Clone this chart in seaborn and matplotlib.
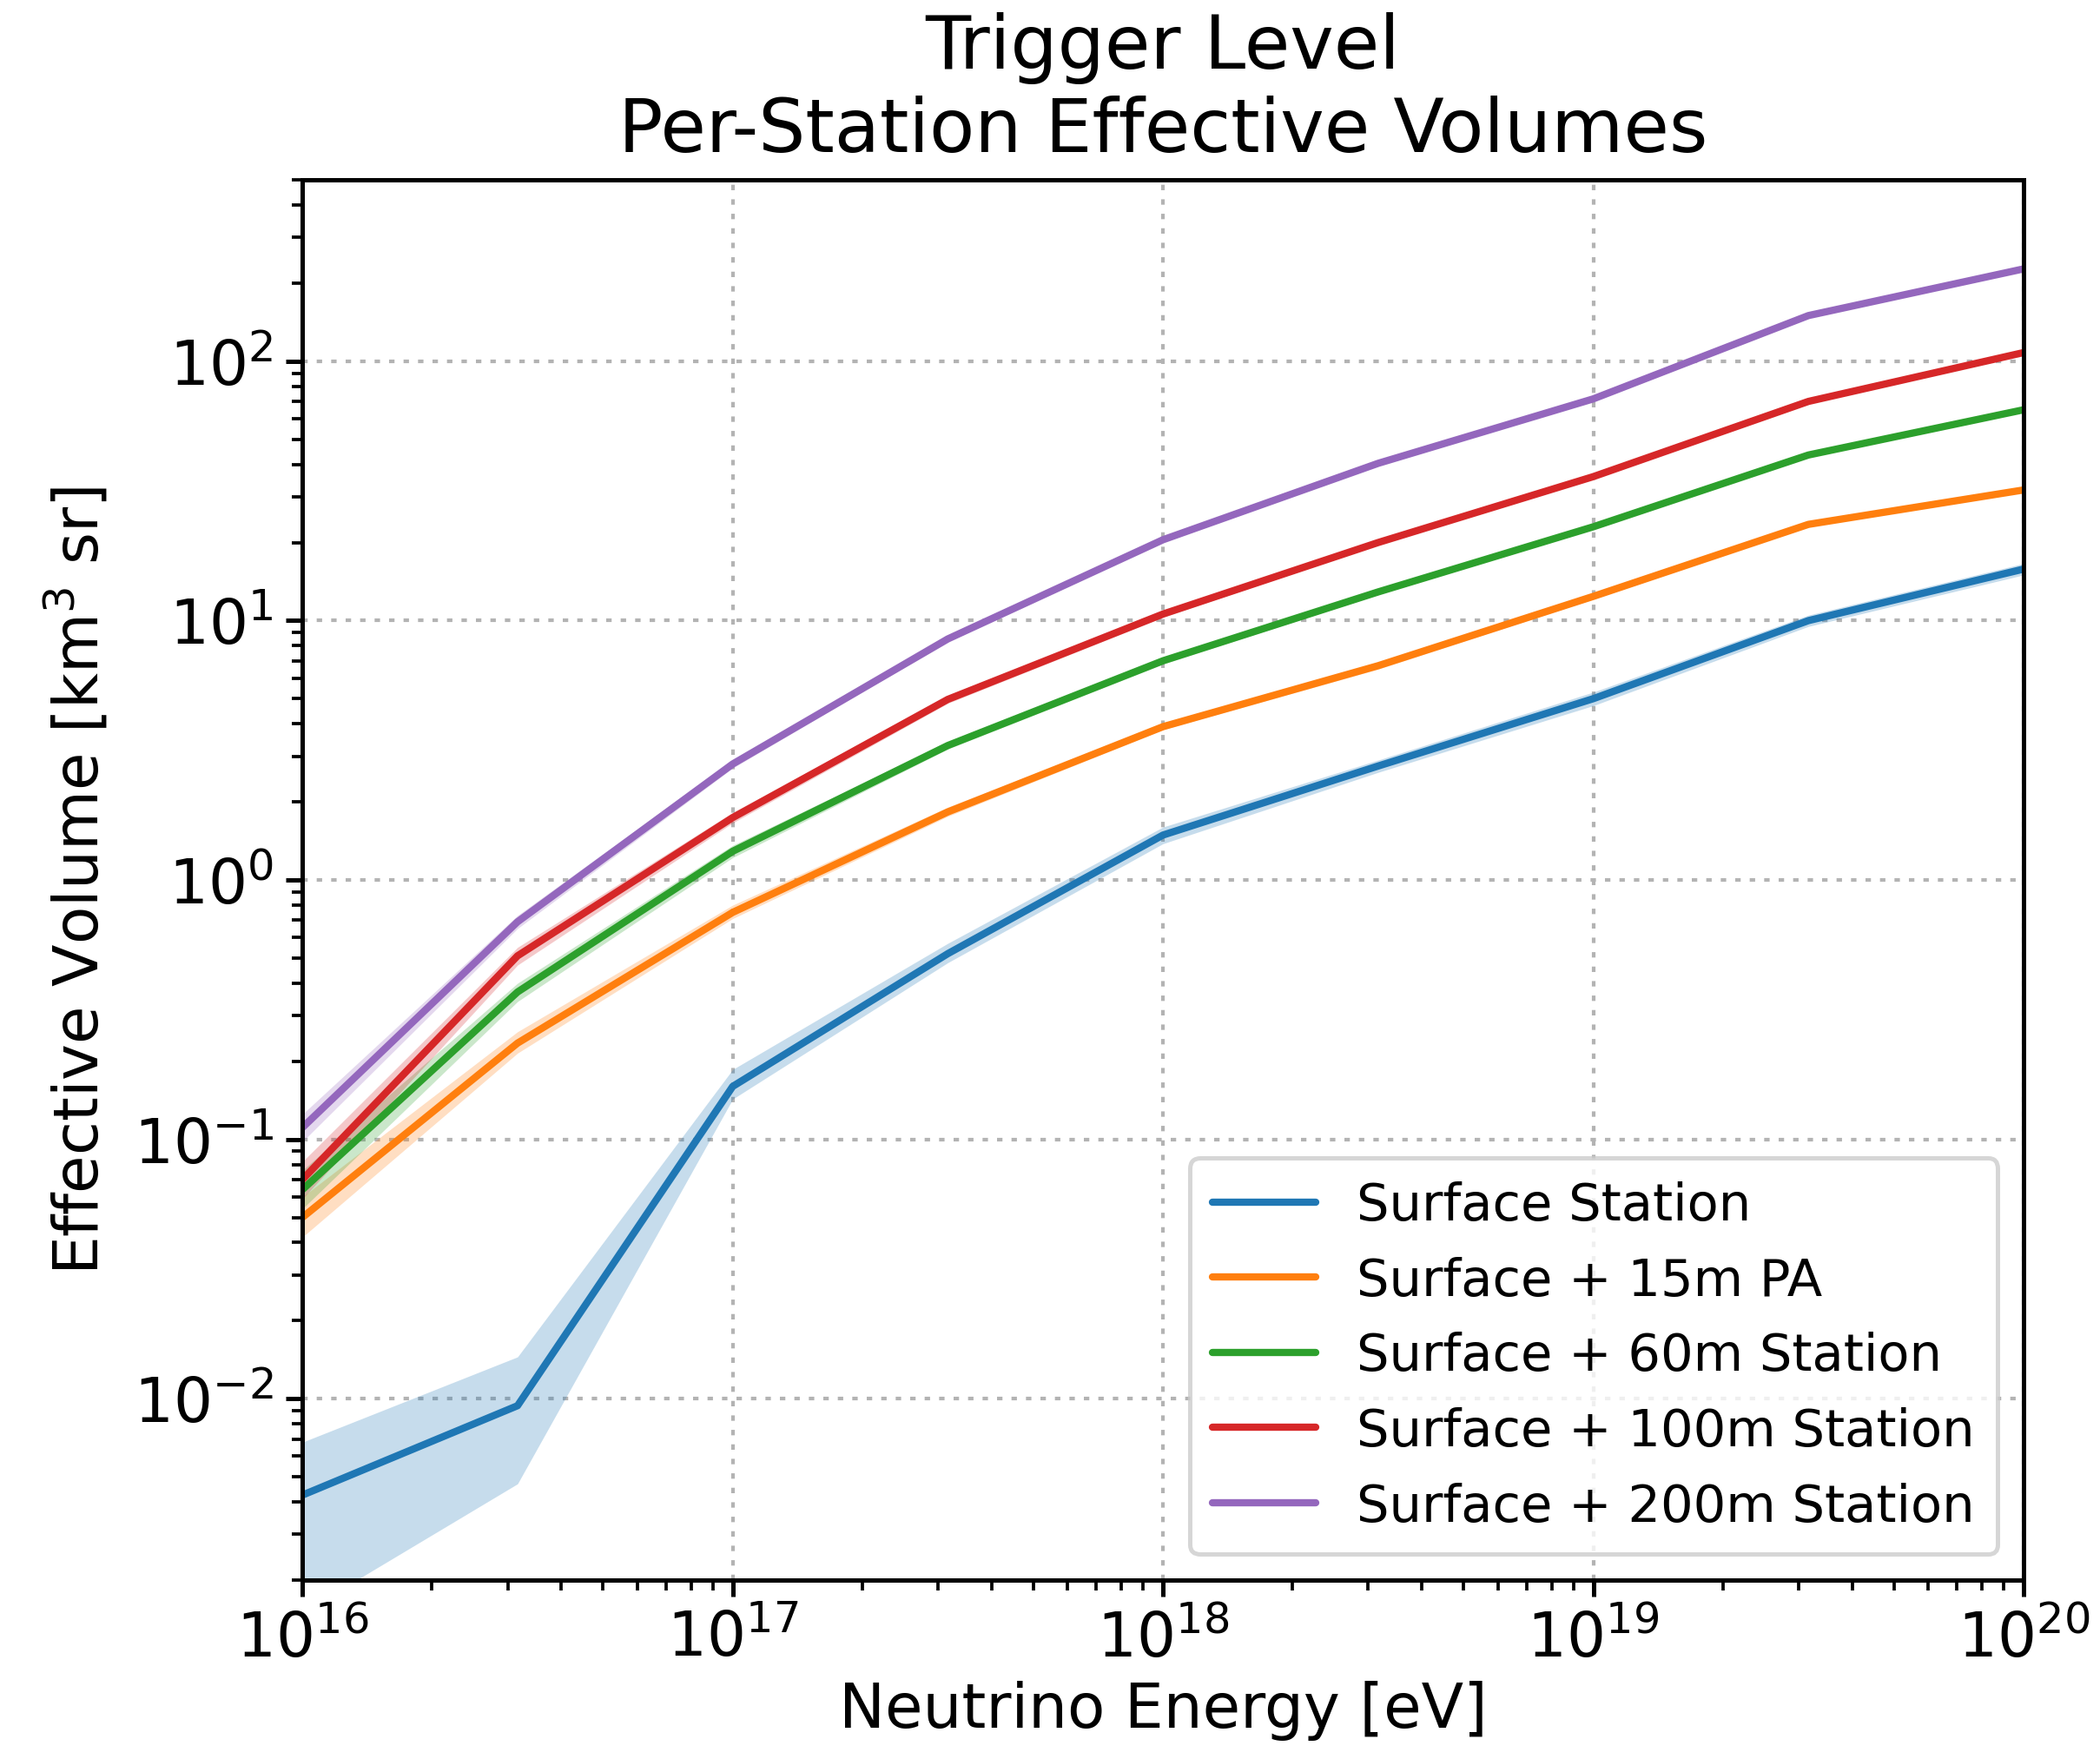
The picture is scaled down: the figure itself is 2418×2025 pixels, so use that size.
import numpy as np
import pandas as pd
import matplotlib
matplotlib.use("Agg")
import matplotlib.pyplot as plt
import seaborn as sns

energies = [1e16, 10**16.5, 1e17, 10**17.5, 1e18, 10**18.5, 1e19, 10**19.5, 1e20]

labels = ["Surface Station", "Surface + 15m PA", "Surface + 60m Station",
          "Surface + 100m Station", "Surface + 200m Station"]

surface = [0.00425, 0.0094, 0.16, 0.52, 1.49, 2.75, 5.0, 10.0, 15.8]
surface_lo = [0.0015, 0.0047, 0.143, 0.48, 1.38, 2.6, 4.7, 9.5, 15.0]
surface_hi = [0.0068, 0.0145, 0.186, 0.57, 1.60, 2.9, 5.3, 10.5, 16.6]

pa15 = [0.050, 0.235, 0.75, 1.83, 3.9, 6.7, 12.4, 23.5, 31.9]
pa15_lo = [0.042, 0.215, 0.71, 1.76, 3.8, 6.5, 12.1, 23.0, 31.3]
pa15_hi = [0.060, 0.260, 0.80, 1.91, 4.0, 6.9, 12.7, 24.0, 32.5]

st60 = [0.064, 0.37, 1.29, 3.3, 7.0, 12.9, 23.0, 43.5, 65.0]
st60_lo = [0.054, 0.34, 1.22, 3.2, 6.8, 12.6, 22.6, 43.0, 64.2]
st60_hi = [0.076, 0.40, 1.36, 3.4, 7.2, 13.2, 23.4, 44.0, 65.8]

st100 = [0.070, 0.51, 1.74, 4.97, 10.6, 20.0, 35.9, 70.0, 108.0]
st100_lo = [0.059, 0.47, 1.66, 4.8, 10.3, 19.6, 35.4, 69.3, 107.0]
st100_hi = [0.082, 0.55, 1.82, 5.15, 10.9, 20.4, 36.4, 70.7, 109.0]

st200 = [0.111, 0.69, 2.8, 8.5, 20.5, 40.4, 71.6, 150.0, 227.0]
st200_lo = [0.098, 0.65, 2.7, 8.3, 20.1, 39.9, 71.0, 149.0, 225.0]
st200_hi = [0.125, 0.73, 2.9, 8.7, 20.9, 40.9, 72.2, 151.0, 229.0]

series = [surface, pa15, st60, st100, st200]
lows = [surface_lo, pa15_lo, st60_lo, st100_lo, st200_lo]
highs = [surface_hi, pa15_hi, st60_hi, st100_hi, st200_hi]

rows = []
for lab, vals in zip(labels, series):
    for e, v in zip(energies, vals):
        rows.append({"energy": e, "veff": v, "config": lab})
df = pd.DataFrame(rows)

sns.set_style("ticks")
plt.rcParams['font.family'] = ['DejaVu Sans']
plt.rcParams['mathtext.fontset'] = 'dejavusans'
plt.rcParams['text.color'] = 'black'
plt.rcParams['axes.labelcolor'] = 'black'
plt.rcParams['xtick.color'] = 'black'
plt.rcParams['ytick.color'] = 'black'

palette = sns.color_palette("tab10", 5)

fig = plt.figure(figsize=(8.06, 6.753), dpi=300)
ax = fig.add_axes([0.144, 0.1017, 0.8196, 0.7956])

for col, lo, hi in zip(palette, lows, highs):
    ax.fill_between(energies, lo, hi, color=col, alpha=0.25, linewidth=0)

sns.lineplot(data=df, x="energy", y="veff", hue="config", hue_order=labels,
             palette=palette, linewidth=2.0, ax=ax, errorbar=None)

ax.set_xscale("log")
ax.set_yscale("log")
ax.set_xlim(1e16, 1e20)
ax.set_ylim(2e-3, 5e2)

ax.grid(True, which="major", linestyle=(0, (1.5, 2.5)), color="0.7", linewidth=1.0)
for s in ax.spines.values():
    s.set_linewidth(1.2)
    s.set_color("black")
ax.tick_params(which="major", direction="out", length=4.5, width=1.2, labelsize=17, color="black")
ax.tick_params(which="minor", direction="out", length=2.8, width=0.9, color="black")

ax.set_xlabel("Neutrino Energy [eV]", fontsize=17, labelpad=3)
ax.set_ylabel("Effective Volume [km$^3$ sr]", fontsize=17, labelpad=6)
ax.set_title("Trigger Level\nPer-Station Effective Volumes", fontsize=20.5, pad=8)

leg = ax.legend(loc="lower right", fontsize=14.2, frameon=True, fancybox=True,
                borderpad=0.45, labelspacing=0.5, handlelength=2.0, handletextpad=0.8,
                borderaxespad=0.5)
leg.get_frame().set_edgecolor("0.8")
leg.get_frame().set_linewidth(1.2)
for line in leg.get_lines():
    line.set_linewidth(2.0)

fig.savefig("out.png", dpi=300)
